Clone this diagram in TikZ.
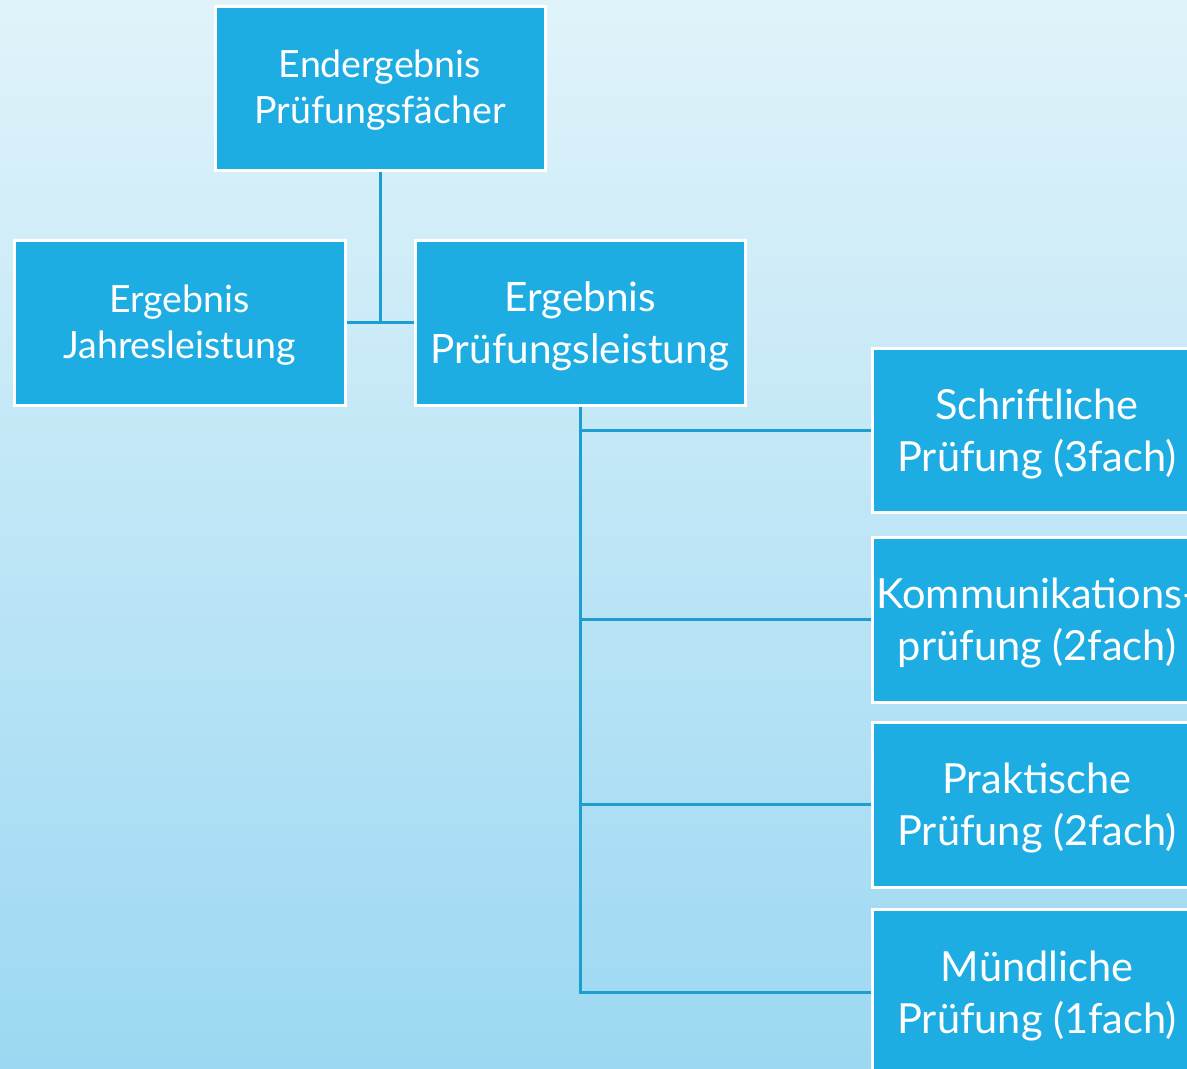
\documentclass[tikz,border=0pt]{standalone}
\usepackage{fontspec}
\setmainfont{Lato}
\definecolor{bgtop}{HTML}{E0F3FA}
\definecolor{bgbot}{HTML}{9CD8F2}
\definecolor{boxfill}{HTML}{1EADE3}
\definecolor{linec}{HTML}{1C9ED0}
\newcommand{\bxt}[2]{\raisebox{-#1}[\height][\depth]{\begin{tabular}{@{}c@{}}#2\end{tabular}}}
\tikzset{
  box/.style={draw=white, line width=3pt, fill=boxfill, text=white,
    inner sep=0pt, minimum width=330pt, minimum height=165pt},
  smallt/.style={font=\fontsize{37.5}{46}\selectfont},
  midt/.style={font=\fontsize{40.5}{52}\selectfont},
  bigt/.style={font=\fontsize{41.5}{52}\selectfont},
  conn/.style={draw=linec, line width=3pt}
}
\begin{document}
\begin{tikzpicture}[x=1pt,y=-1pt]
\useasboundingbox (0,0) rectangle (1187,1069);
\clip (0,0) rectangle (1187,1069);
\shade[top color=bgtop, bottom color=bgbot] (0,0) rectangle (1187,1069);
\node[box, smallt, minimum height=164pt] (top) at (380,88) {\bxt{3pt}{Endergebnis\\Prüfungsfächer}};
\node[box, smallt, minimum width=331pt] (jahr) at (179.5,322.5) {\bxt{4pt}{Ergebnis\\Jahresleistung}};
\node[box, midt] (pruef) at (580,322.5) {\bxt{5pt}{Ergebnis\\Prüfungsleistung}};
\node[box, bigt, minimum height=164pt] (s1) at (1037,430) {\bxt{5pt}{Schriftliche\\Prüfung (3fach)}};
\node[box, bigt] (s2) at (1037,619.5) {\bxt{5pt}{Kommunikations-\\prüfung (2fach)}};
\node[box, bigt] (s3) at (1037,804.5) {\bxt{5pt}{Praktische\\Prüfung (2fach)}};
\node[box, bigt, minimum height=166pt] (s4) at (1037,992) {\bxt{5pt}{Mündliche\\Prüfung (1fach)}};
\draw[conn] (top.south) -- (top.south |- jahr.east);
\draw[conn] (jahr.east) -- (pruef.west);
\draw[conn] (pruef.south) |- (s4.west);
\draw[conn] (pruef.south |- s1.west) -- (s1.west);
\draw[conn] (pruef.south |- s2.west) -- (s2.west);
\draw[conn] (pruef.south |- s3.west) -- (s3.west);
\end{tikzpicture}
\end{document}
